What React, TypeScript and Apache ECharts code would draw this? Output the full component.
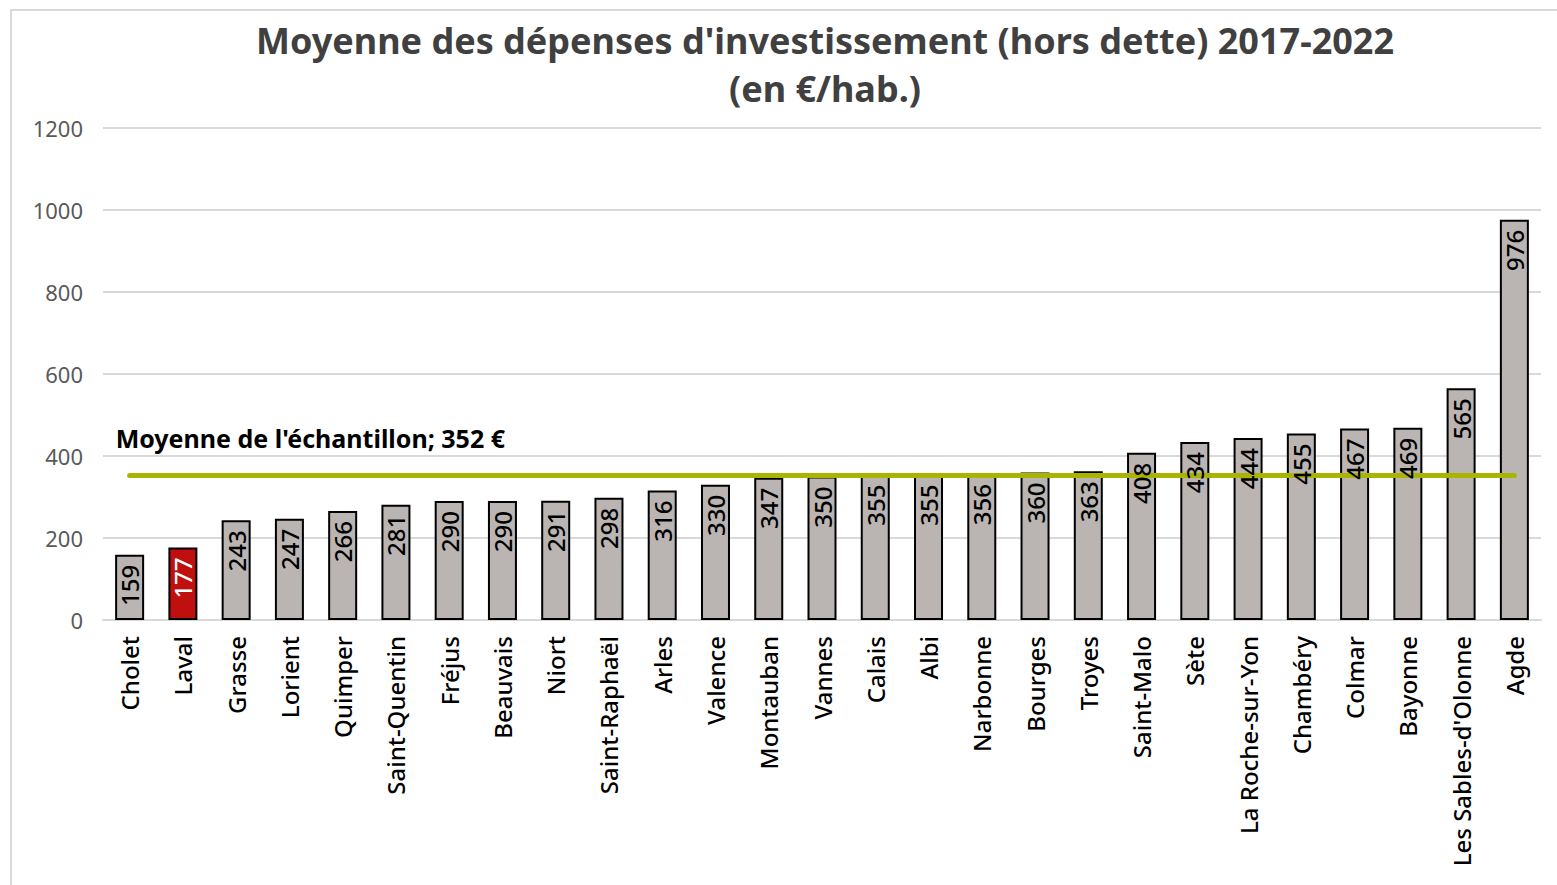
import React, { useEffect, useRef } from "react";
import * as echarts from "echarts";

const cities = [
  "Cholet", "Laval", "Grasse", "Lorient", "Quimper", "Saint-Quentin", "Fréjus",
  "Beauvais", "Niort", "Saint-Raphaël", "Arles", "Valence", "Montauban", "Vannes",
  "Calais", "Albi", "Narbonne", "Bourges", "Troyes", "Saint-Malo", "Sète",
  "La Roche-sur-Yon", "Chambéry", "Colmar", "Bayonne", "Les Sables-d'Olonne", "Agde",
];
const values = [
  159, 177, 243, 247, 266, 281, 290, 290, 291, 298, 316, 330, 347, 350, 355, 355,
  356, 360, 363, 408, 434, 444, 455, 467, 469, 565, 976,
];
const highlighted = "Laval";
const sampleAverage = 352;
const yTicks = [0, 200, 400, 600, 800, 1000, 1200];
const titleLines = ["Moyenne des dépenses d'investissement (hors dette) 2017-2022", "(en €/hab.)"];
const averageLabel = `Moyenne de l'échantillon; ${sampleAverage} €`;

const FONT = "'Noto Sans', 'DejaVu Sans', sans-serif";

export default function App() {
  const ref = useRef<HTMLDivElement>(null);
  useEffect(() => {
    document.body.style.margin = "0";
    if (!ref.current) return;
    const chart = echarts.init(ref.current, undefined, { renderer: "svg" });
    chart.setOption({
      animation: false,
      backgroundColor: "#ffffff",
      title: {
        text: titleLines.join("\n"),
        left: 825,
        textAlign: "center",
        top: 16,
        padding: 0,
        textStyle: {
          fontFamily: FONT,
          fontSize: 36,
          fontWeight: "bold",
          color: "#404040",
          lineHeight: 48,
        },
      },
      grid: { left: 103, right: 16, top: 128, bottom: 265, containLabel: false },
      xAxis: {
        type: "category",
        data: cities,
        axisLine: { show: true, lineStyle: { color: "#d9d9d9", width: 2 } },
        axisTick: { show: false },
        axisLabel: {
          rotate: 90,
          interval: 0,
          margin: 16,
          fontFamily: FONT,
          fontSize: 24,
          fontWeight: 500,
          color: "#000000",
        },
      },
      yAxis: {
        type: "value",
        min: yTicks[0],
        max: yTicks[yTicks.length - 1],
        interval: yTicks[1] - yTicks[0],
        axisLine: { show: false },
        axisTick: { show: false },
        splitLine: { lineStyle: { color: "#d9d9d9", width: 2 } },
        axisLabel: {
          margin: 20,
          fontFamily: FONT,
          fontSize: 22,
          color: "#595959",
          formatter: (v: number) => String(v),
        },
      },
      series: [
        {
          type: "bar",
          barWidth: 29,
          barGap: "-100%",
          data: values.map((v, i) => ({
            value: v,
            itemStyle: {
              color: cities[i] === highlighted ? "#C00F0F" : "#BAB5B2",
              borderColor: "#000000",
              borderWidth: 2,
            },
          })),
          label: { show: false },
          markLine: {
            silent: true,
            symbol: "none",
            label: { show: false },
            lineStyle: { color: "#A9B400", width: 5, type: "solid", cap: "round" },
            data: [
              [
                { coord: [cities[0], sampleAverage] },
                { coord: [cities[cities.length - 1], sampleAverage] },
              ],
            ],
          },
          z: 2,
        },
        {
          type: "bar",
          barWidth: 29,
          barGap: "-100%",
          silent: true,
          itemStyle: { color: "rgba(0,0,0,0)" },
          data: values.map((v, i) => ({
            value: v,
            label: {
              color: cities[i] === highlighted ? "#ffffff" : "#000000",
            },
          })),
          label: {
            show: true,
            position: "insideTop",
            rotate: 90,
            align: "right",
            verticalAlign: "middle",
            distance: 10,
            fontFamily: FONT,
            fontSize: 24,
            fontWeight: 500,
          },
          z: 5,
        },
      ],
    });
    const p = chart.convertToPixel({ gridIndex: 0 }, [0, sampleAverage]) as number[];
    chart.setOption({
      graphic: [
        {
          type: "rect",
          silent: true,
          shape: { x: 11, y: 10, width: 1600, height: 900 },
          style: { fill: "none", stroke: "#d9d9d9", lineWidth: 2 },
        },
        {
          type: "text",
          x: p[0] - 14,
          y: p[1] - 38,
          style: {
            text: averageLabel,
            fontFamily: FONT,
            fontSize: 25,
            fontWeight: "bold",
            fill: "#000000",
            verticalAlign: "middle",
            align: "left",
          },
        },
      ],
    });
    return () => chart.dispose();
  }, []);
  return <div ref={ref} style={{ width: 1557, height: 885 }} />;
}
